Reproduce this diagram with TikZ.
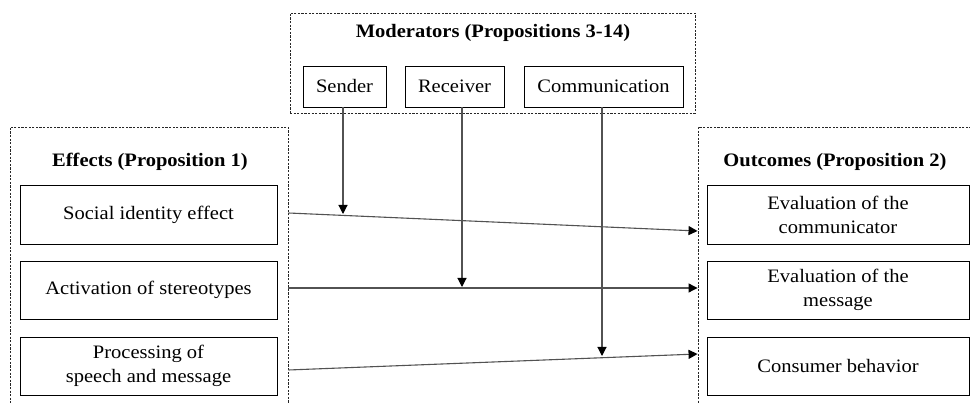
\documentclass[tikz,border=0pt]{standalone}
\usepackage{fontspec}
\setmainfont{Liberation Serif}[FakeStretch=1.08]
\usetikzlibrary{arrows.meta}
\begin{document}
\begin{tikzpicture}[x=1pt,y=-1pt,
  grp/.style={draw=black!85, dash pattern=on 2.2pt off 1.4pt, line width=0.9pt, minimum width=#1},
  box/.style={draw, line width=0.8pt, inner sep=0pt, align=center, font=\fontsize{19}{24}\selectfont},
  ttl/.style={font=\fontsize{19}{23}\selectfont\bfseries, inner sep=0pt},
  arr/.style={draw=black!68, line width=1.1pt, -{Triangle[length=9pt,width=9pt,color=black]}}]
\useasboundingbox (0,0) rectangle (970,403);
\clip (0,0) rectangle (970,403);
% groups
\node[grp=405, minimum height=100, inner sep=0pt] (mod) at (492.5,63) {};
\node[grp=278, minimum height=300, inner sep=0pt] (eff) at (149,277) {};
\node[grp=300, minimum height=300, inner sep=0pt] (out) at (848,277) {};
% titles
\node[ttl] (modt) at (493,33) {Moderators (Propositions 3-14)};
\node[ttl] (efft) at (150,162) {Effects (Proposition 1)};
\node[ttl] (outt) at (835,162) {Outcomes (Proposition 2)};
% moderators
\node[box, minimum width=83, minimum height=41] (snd) at (344.5,86.5) {\raisebox{-2pt}{Sender}};
\node[box, minimum width=99, minimum height=41] (rcv) at (454.5,86.5) {\raisebox{-2pt}{Receiver}};
\node[box, minimum width=159, minimum height=41] (com) at (603.5,86.5) {\raisebox{-2pt}{Communication}};
% effects
\node[box, minimum width=257, minimum height=59] (e1) at (148.5,214.5) {Social identity effect};
\node[box, minimum width=257, minimum height=58] (e2) at (148.5,290) {Activation of stereotypes};
\node[box, minimum width=257, minimum height=58] (e3) at (148.5,366) {Processing of\\speech and message};
% outcomes
\node[box, minimum width=262, minimum height=59] (o1) at (838,214.5) {Evaluation of the\\communicator};
\node[box, minimum width=262, minimum height=58] (o2) at (838,290) {Evaluation of the\\message};
\node[box, minimum width=262, minimum height=58] (o3) at (838,366) {Consumer behavior};
% connector anchors
\coordinate (l1) at (eff.east |- 0,213);
\coordinate (r1) at (out.west |- 0,231);
\coordinate (l2) at (eff.east |- 0,288);
\coordinate (r2) at (out.west |- 0,288);
\coordinate (l3) at (eff.east |- 0,370);
\coordinate (r3) at (out.west |- 0,354);
\coordinate (s1) at (343,214);
\coordinate (s2) at (462,287);
\coordinate (s3) at (602,356);
% horizontal arrows
\draw[arr] (l1) -- (r1);
\draw[arr] (l2) -- (r2);
\draw[arr] (l3) -- (r3);
% vertical arrows
\draw[arr] (snd.south -| s1) -- (s1);
\draw[arr] (rcv.south -| s2) -- (s2);
\draw[arr] (com.south -| s3) -- (s3);
\end{tikzpicture}
\end{document}
